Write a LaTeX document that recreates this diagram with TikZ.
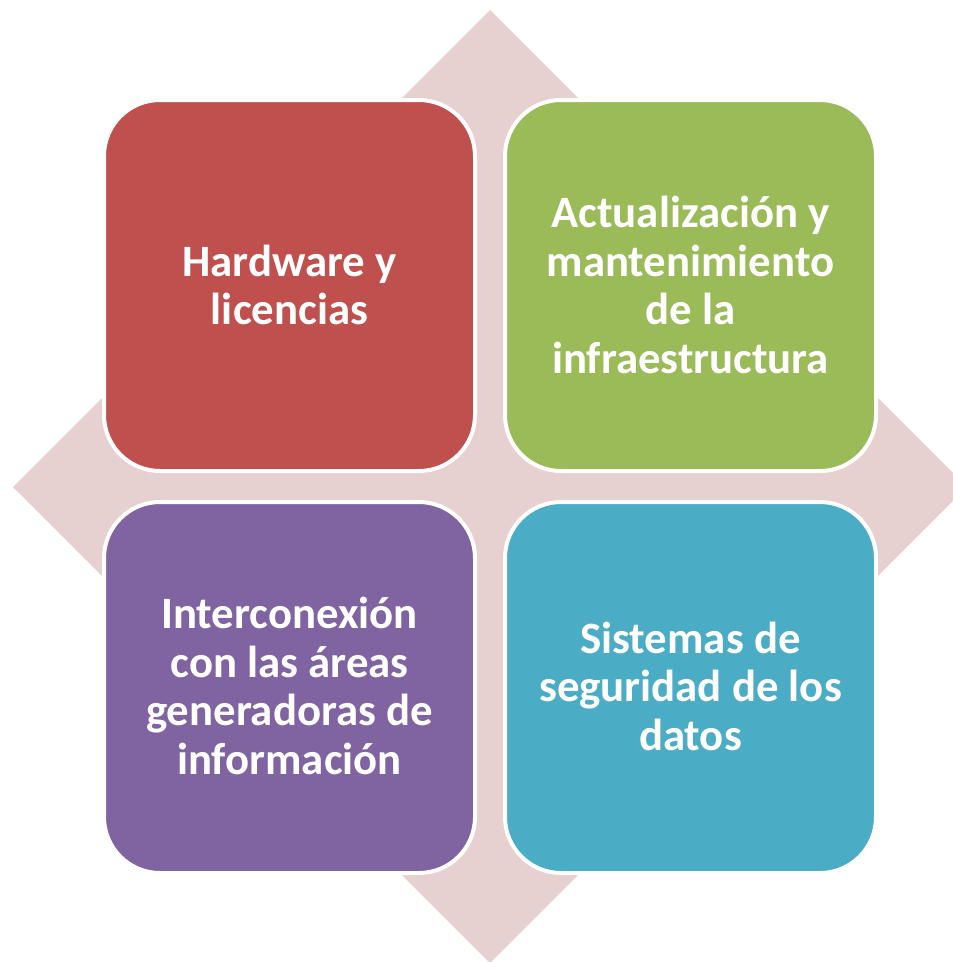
\documentclass[tikz,border=0pt]{standalone}
\usepackage{fontspec}
\setmainfont{Carlito}
\definecolor{bgpink}{RGB}{231,208,208}
\definecolor{cred}{RGB}{192,80,77}
\definecolor{cgreen}{RGB}{155,187,89}
\definecolor{cpurple}{RGB}{128,100,162}
\definecolor{cteal}{RGB}{75,172,198}
\begin{document}
\begin{tikzpicture}[x=1pt,y=-1pt,
  tile/.style={draw=white,line width=4pt,rounded corners=56pt},
  lbl/.style={text=white,font=\fontsize{44.8}{48.5}\selectfont\bfseries,align=center}]
\useasboundingbox (0,0) rectangle (953,962);
\begin{scope}
\clip (0,0) rectangle (953,962);
\fill[bgpink] (490,10) -- (967,487) -- (490,963) -- (13,487) -- cycle;
\end{scope}
\path[tile,fill=cred] (104,100) rectangle (475,471);
\path[tile,fill=cgreen] (505,100) rectangle (876,471);
\path[tile,fill=cpurple] (104,502) rectangle (475,873);
\path[tile,fill=cteal] (505,502) rectangle (876,873);
\node[lbl] (hw) at (289.5,285) {Hardware y\\licencias};
\node[lbl] (act) at (690.5,285) {Actualización y\\mantenimiento\\de la\\infraestructura};
\node[lbl] (int) at (289.5,686) {Interconexión\\con las áreas\\generadoras de\\información};
\node[lbl] (seg) at (690.5,686) {Sistemas de\\seguridad de los\\datos};
\end{tikzpicture}
\end{document}
